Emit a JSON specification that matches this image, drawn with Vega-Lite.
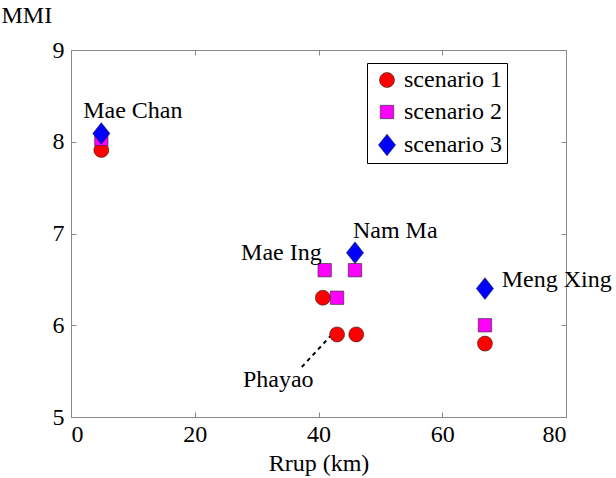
{
  "$schema": "https://vega.github.io/schema/vega-lite/v6.json",
  "width": 495,
  "height": 367,
  "autosize": "none",
  "padding": {"left": 71, "top": 50, "right": 50, "bottom": 61},
  "background": "white",
  "config": {
    "view": {"stroke": "#888888", "strokeWidth": 1},
    "font": "Liberation Serif",
    "axis": {
      "grid": false,
      "domainColor": "#888888",
      "tickColor": "#888888",
      "tickSize": -5,
      "labelFont": "Liberation Serif",
      "labelFontSize": 24,
      "labelColor": "black",
      "titleFont": "Liberation Serif",
      "titleFontSize": 24,
      "titleFontWeight": "normal",
      "titleColor": "black"
    },
    "legend": {
      "labelFont": "Liberation Serif",
      "labelFontSize": 24,
      "labelColor": "black"
    }
  },
  "datasets": {
    "pts": [
      {"site": "Mae Chan", "rrup": 4.9, "mmi": 7.91, "scenario": "scenario 1"},
      {"site": "Mae Ing", "rrup": 40.7, "mmi": 6.3, "scenario": "scenario 1"},
      {"site": "Phayao", "rrup": 43.0, "mmi": 5.9, "scenario": "scenario 1"},
      {"site": "Nam Ma", "rrup": 46.1, "mmi": 5.9, "scenario": "scenario 1"},
      {"site": "Meng Xing", "rrup": 66.9, "mmi": 5.8, "scenario": "scenario 1"},
      {"site": "Mae Chan", "rrup": 4.9, "mmi": 8.03, "scenario": "scenario 2"},
      {"site": "Mae Ing", "rrup": 41.0, "mmi": 6.6, "scenario": "scenario 2"},
      {"site": "Phayao", "rrup": 43.0, "mmi": 6.3, "scenario": "scenario 2"},
      {"site": "Nam Ma", "rrup": 45.9, "mmi": 6.6, "scenario": "scenario 2"},
      {"site": "Meng Xing", "rrup": 66.9, "mmi": 6.0, "scenario": "scenario 2"},
      {"site": "Mae Chan", "rrup": 4.9, "mmi": 8.09, "scenario": "scenario 3"},
      {"site": "Nam Ma", "rrup": 45.9, "mmi": 6.79, "scenario": "scenario 3"},
      {"site": "Meng Xing", "rrup": 66.9, "mmi": 6.4, "scenario": "scenario 3"}
    ],
    "labels": [
      {"name": "Mae Chan", "lx": 10.0, "ly": 8.26},
      {"name": "Mae Ing", "lx": 34.0, "ly": 6.71},
      {"name": "Nam Ma", "lx": 52.4, "ly": 6.95},
      {"name": "Meng Xing", "lx": 78.5, "ly": 6.42},
      {"name": "Phayao", "lx": 33.5, "ly": 5.33}
    ],
    "leader": [
      {"x1": 37.3, "y1": 5.545, "x2": 41.9, "y2": 5.88}
    ]
  },
  "layer": [
    {
      "data": {"name": "leader"},
      "mark": {"type": "rule", "strokeDash": [4, 4], "strokeWidth": 2, "color": "black"},
      "encoding": {
        "x": {"field": "x1", "type": "quantitative", "scale": {"domain": [0, 80], "nice": false},
              "axis": {"orient": "top", "labels": false, "title": null, "values": [0, 20, 40, 60, 80], "domain": false}},
        "y": {"field": "y1", "type": "quantitative", "scale": {"domain": [5, 9], "nice": false},
              "axis": {"orient": "right", "labels": false, "title": null, "values": [5, 6, 7, 8, 9], "domain": false}},
        "x2": {"field": "x2"},
        "y2": {"field": "y2"}
      }
    },
    {
      "data": {"name": "pts"},
      "mark": {"type": "point", "filled": true, "opacity": 1, "stroke": "#222222", "strokeWidth": 0.6},
      "encoding": {
        "x": {"field": "rrup", "type": "quantitative", "scale": {"domain": [0, 80], "nice": false},
              "axis": {"orient": "bottom", "title": "Rrup (km)", "values": [0, 20, 40, 60, 80], "labelPadding": 10, "titlePadding": 5,
                       "labelFont": "Liberation Serif", "titleFont": "Liberation Serif"}},
        "y": {"field": "mmi", "type": "quantitative", "scale": {"domain": [5, 9], "nice": false},
              "axis": {"orient": "left", "title": "MMI", "values": [5, 6, 7, 8, 9], "labelPadding": 12,
                       "labelFont": "Liberation Serif", "titleFont": "Liberation Serif",
                       "titleAngle": 0, "titleX": -70, "titleY": -28, "titleAlign": "left", "titleBaseline": "alphabetic"}},
        "color": {"field": "scenario", "type": "nominal",
                  "scale": {"domain": ["scenario 1", "scenario 2", "scenario 3"], "range": ["#ff0000", "#ff00ff", "#0000ff"]},
                  "legend": {"title": null, "orient": "none", "legendX": 296, "legendY": 13, "strokeColor": "black",
                             "padding": 5, "rowPadding": 8, "symbolOffset": 3, "symbolStrokeColor": "#222222", "symbolStrokeWidth": 0.6,
                             "symbolSize": 240, "labelOffset": 5, "labelExpr": "datum.label + '   '"}},
        "shape": {"field": "scenario", "type": "nominal",
                  "scale": {"domain": ["scenario 1", "scenario 2", "scenario 3"], "range": ["circle", "square", "M0,-1.9L1.5,0L0,1.9L-1.5,0Z"]}},
        "size": {"field": "scenario", "type": "nominal",
                 "scale": {"domain": ["scenario 1", "scenario 2", "scenario 3"], "range": [225, 130, 256]}, "legend": null}
      }
    },
    {
      "data": {"name": "labels"},
      "mark": {"type": "text", "fontSize": 24, "font": "Liberation Serif", "color": "black", "baseline": "alphabetic", "align": "center"},
      "encoding": {
        "x": {"field": "lx", "type": "quantitative", "axis": null},
        "y": {"field": "ly", "type": "quantitative", "axis": null},
        "text": {"field": "name"}
      }
    }
  ],
  "resolve": {"axis": {"x": "independent", "y": "independent"}}
}
